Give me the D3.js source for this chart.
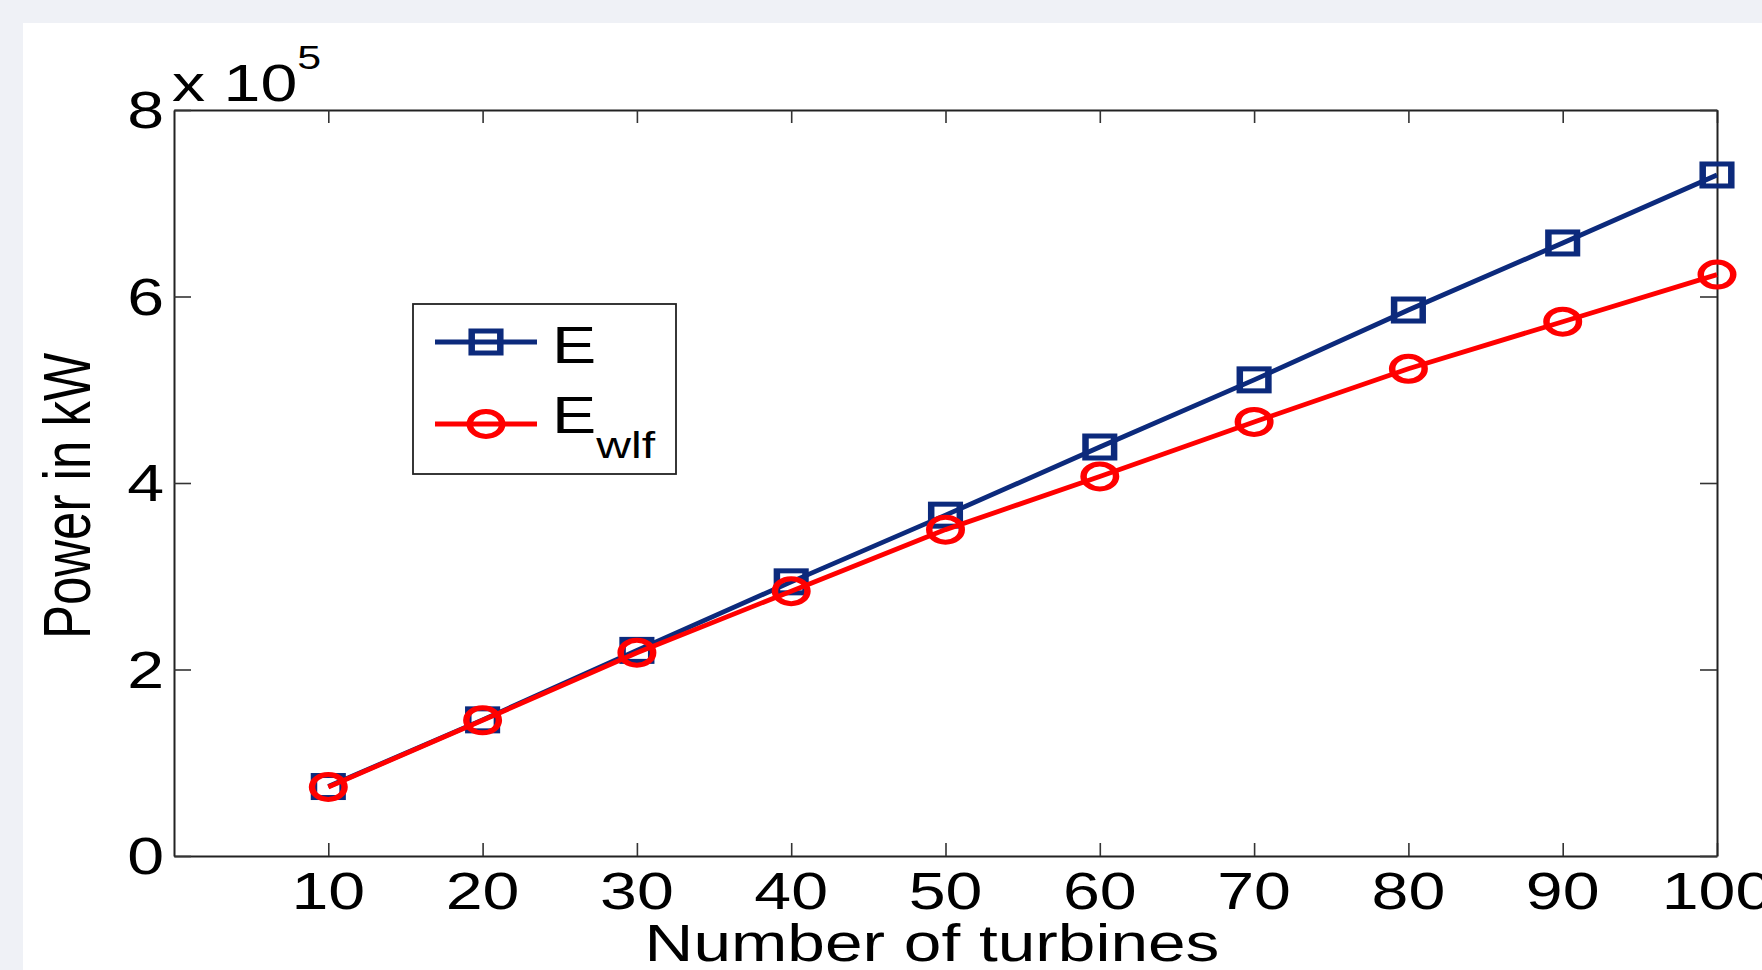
<!DOCTYPE html>
<html>
<head>
<meta charset="utf-8">
<title>Power vs turbines</title>
<script src="https://d3js.org/d3.v7.min.js"></script>
<style>
  html, body { margin: 0; padding: 0; background: #eff1f6; }
  text { font-family: "Liberation Sans", Arial, Helvetica, sans-serif; fill: #000; }
</style>
</head>
<body>
<script>
// data
const turbines = [10, 20, 30, 40, 50, 60, 70, 80, 90, 100];
const powerE = [74500, 146000, 220500, 294000, 365500, 438600, 510600, 585500, 657400, 730300];
const powerWlf = [74000, 145500, 218000, 284000, 350000, 407000, 465500, 522500, 573000, 623500];
const xTicks = [10, 20, 30, 40, 50, 60, 70, 80, 90, 100];
const yTicks = [0, 200000, 400000, 600000, 800000];

const W = 1762, H = 970;
const margin = { top: 110, right: 45, bottom: 114, left: 174 };
const sx = 1.3; // picture is stretched sideways
const navy = "#0c2a7c", red = "#ff0000";

const svg = d3.select("body").append("svg")
    .attr("width", W)
    .attr("height", H);

// white panel
svg.append("rect")
    .attr("x", 23).attr("y", 23)
    .attr("width", W - 23).attr("height", H - 23)
    .attr("fill", "#fff");

const x = d3.scaleLinear().domain([0, 100]).range([margin.left, W - margin.right]);
const y = d3.scaleLinear().domain([0, 800000]).range([H - margin.bottom, margin.top]);

// box axes with inward ticks
function styleAxis(g) {
    g.select(".domain").attr("stroke", "#222").attr("stroke-width", 2);
    g.selectAll(".tick line").attr("stroke", "#333").attr("stroke-width", 1.6);
    g.selectAll(".tick text").remove();
}
svg.append("g")
    .attr("transform", `translate(0,${y(0)})`)
    .call(d3.axisBottom(x).tickValues(xTicks).tickSizeInner(-13).tickSizeOuter(0))
    .call(styleAxis);
svg.append("g")
    .attr("transform", `translate(0,${y(800000)})`)
    .call(d3.axisTop(x).tickValues(xTicks).tickSizeInner(-13).tickSizeOuter(0))
    .call(styleAxis);
svg.append("g")
    .attr("transform", `translate(${x(0)},0)`)
    .call(d3.axisLeft(y).tickValues(yTicks).tickSizeInner(-17).tickSizeOuter(0))
    .call(styleAxis);
svg.append("g")
    .attr("transform", `translate(${x(100)},0)`)
    .call(d3.axisRight(y).tickValues(yTicks).tickSizeInner(-17).tickSizeOuter(0))
    .call(styleAxis);

// tick labels
svg.append("g").selectAll("text")
    .data(xTicks)
    .join("text")
    .attr("transform", d => `translate(${x(d)},909) scale(${sx},1)`)
    .attr("text-anchor", "middle")
    .attr("font-size", 51)
    .text(d => d);

svg.append("g").selectAll("text")
    .data(yTicks)
    .join("text")
    .attr("transform", d => `translate(164,${y(d) + 18}) scale(${sx},1)`)
    .attr("text-anchor", "end")
    .attr("font-size", 51)
    .text(d => d / 1e5);

// exponent
const expo = svg.append("text")
    .attr("transform", `translate(172,101) scale(${sx},1)`)
    .attr("font-size", 51);
expo.append("tspan").text("x 10");
expo.append("tspan").attr("font-size", 33).attr("dy", -32).text("5");

// axis titles
svg.append("text")
    .attr("transform", `translate(932,961) scale(${sx},1)`)
    .attr("text-anchor", "middle")
    .attr("font-size", 52)
    .text("Number of turbines");

svg.append("text")
    .attr("transform", `translate(90,496) scale(${sx},1) rotate(-90)`)
    .attr("text-anchor", "middle")
    .attr("font-size", 51)
    .text("Power in kW");

// series
const series = [
    { name: "E", values: powerE, color: navy, shape: "square" },
    { name: "wlf", values: powerWlf, color: red, shape: "circle" }
];

const line = d3.line()
    .x((d, i) => x(turbines[i]))
    .y(d => y(d));

function marker(g, shape, color) {
    if (shape === "square") {
        g.append("rect")
            .attr("x", -11).attr("y", -11)
            .attr("width", 22).attr("height", 22)
            .attr("fill", "none").attr("stroke", color).attr("stroke-width", 5);
    } else {
        g.append("circle")
            .attr("r", 12.5)
            .attr("fill", "none").attr("stroke", color).attr("stroke-width", 5);
    }
}

series.forEach(s => {
    svg.append("path")
        .datum(s.values)
        .attr("d", line)
        .attr("fill", "none")
        .attr("stroke", s.color)
        .attr("stroke-width", 4.8);
    svg.append("g").selectAll("g")
        .data(s.values)
        .join("g")
        .attr("transform", (d, i) => `translate(${x(turbines[i])},${y(d)}) scale(${sx},1)`)
        .each(function () { marker(d3.select(this), s.shape, s.color); });
});

// legend
const legend = svg.append("g");
legend.append("rect")
    .attr("x", 413).attr("y", 304)
    .attr("width", 263).attr("height", 170)
    .attr("fill", "#fff").attr("stroke", "#222").attr("stroke-width", 1.8);

const legendRows = [342, 424];
series.forEach((s, i) => {
    const ly = legendRows[i];
    legend.append("line")
        .attr("x1", 435).attr("x2", 537)
        .attr("y1", ly).attr("y2", ly)
        .attr("stroke", s.color).attr("stroke-width", 4.8);
    const m = legend.append("g").attr("transform", `translate(486,${ly}) scale(${sx},1)`);
    marker(m, s.shape, s.color);
});
legend.append("text")
    .attr("transform", `translate(552,363) scale(${sx},1)`)
    .attr("font-size", 51)
    .text("E");
const lt = legend.append("text")
    .attr("transform", `translate(552,433) scale(${sx},1)`)
    .attr("font-size", 51);
lt.append("tspan").text("E");
lt.append("tspan").attr("font-size", 37).attr("dy", 25).text("wlf");
</script>
</body>
</html>
